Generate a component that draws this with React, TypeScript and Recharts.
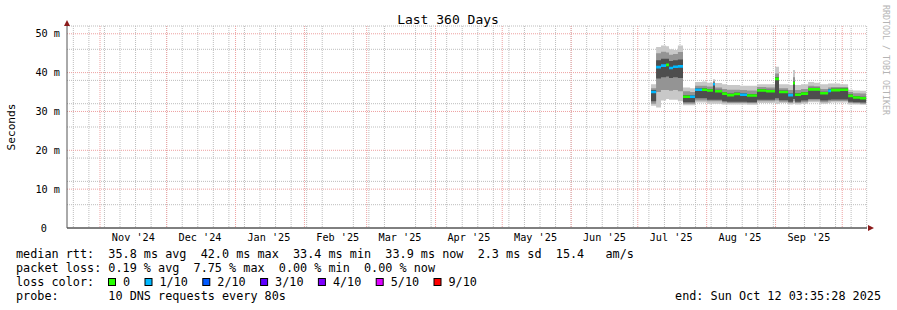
import {
  ComposedChart,
  Area,
  XAxis,
  YAxis,
  CartesianGrid,
  ReferenceDot,
} from "recharts";

const FONT = '"DejaVu Sans Mono", monospace';
const START = Date.UTC(2024, 9, 17, 3, 35, 28);
const DAY_MS = 86400000;
const toDay = (iso: string) => (Date.parse(iso + "T00:00:00Z") - START) / DAY_MS;
const keepSpaces = (s: string) => s.replace(/ /g, "\u00A0");

// axis / grid
const monthStarts = [
  "2024-11-01", "2024-12-01", "2025-01-01", "2025-02-01", "2025-03-01", "2025-04-01",
  "2025-05-01", "2025-06-01", "2025-07-01", "2025-08-01", "2025-09-01", "2025-10-01",
];
const monthLabelDates = [
  "2024-11-16", "2024-12-16", "2025-01-16", "2025-02-16", "2025-03-16", "2025-04-16",
  "2025-05-16", "2025-06-16", "2025-07-16", "2025-08-16", "2025-09-16",
];
const monthLabels = [
  "Nov '24", "Dec '24", "Jan '25", "Feb '25", "Mar '25", "Apr '25",
  "May '25", "Jun '25", "Jul '25", "Aug '25", "Sep '25",
];
const firstSunday = "2024-10-20";
const yTicks = [0, 10, 20, 30, 40, 50];
const yMinor = [2, 4, 6, 8, 12, 14, 16, 18, 22, 24, 26, 28, 32, 34, 36, 38, 42, 44, 46, 48, 52];
const yMajor = [10, 20, 30, 40, 50];

// samples (day since start of window), values in ms
const days = [
  262.8, 265.1, 267.3, 269.6, 270.9, 272.7, 274.9, 277.2, 280.4, 282.6,
  285.8, 288.0, 290.7, 291.6, 294.8, 297.0, 300.2, 302.9, 306.0, 310.5,
  314.6, 318.6, 320.4, 324.5, 326.7, 327.6, 330.3, 333.5, 336.2, 338.9,
  342.5, 343.8, 347.9, 351.5, 353.7, 356.9, 359.6,
];
const median = [
  35.0, 41.4, 41.8, 42.0, 41.2, 41.5, 41.6, 33.8, 33.8, 35.6,
  35.6, 35.4, 37.0, 35.2, 34.6, 34.2, 34.5, 34.3, 34.1, 35.4,
  35.2, 38.4, 35.0, 34.2, 37.3, 34.3, 34.6, 35.7, 35.7, 34.7,
  35.3, 35.5, 35.6, 34.0, 33.6, 33.4, 33.4,
];
const pingMin = [
  31.5, 31.0, 32.8, 33.2, 33.0, 33.0, 32.6, 31.6, 31.6, 32.3,
  32.3, 32.0, 32.0, 32.0, 31.8, 31.8, 31.8, 31.8, 31.7, 32.2,
  32.2, 32.0, 32.2, 31.8, 32.0, 31.8, 32.0, 32.4, 32.4, 32.0,
  32.2, 32.3, 32.3, 31.8, 31.8, 31.7, 31.7,
];
const pingMax = [
  37.0, 46.6, 47.0, 46.8, 46.0, 45.8, 47.0, 36.2, 36.0, 37.6,
  37.7, 37.4, 38.3, 37.3, 37.0, 36.8, 36.8, 36.6, 36.6, 37.0,
  37.0, 41.5, 37.0, 36.8, 40.7, 36.8, 37.0, 37.6, 37.4, 37.0,
  37.2, 37.2, 37.0, 35.6, 35.4, 35.3, 35.3,
];
const pingLo = [
  32.0, 35.0, 35.5, 35.5, 35.3, 35.5, 35.2, 32.0, 32.0, 32.8,
  32.8, 32.6, 32.6, 32.6, 32.3, 32.2, 32.2, 32.2, 32.1, 32.6,
  32.6, 32.8, 32.5, 32.2, 32.6, 32.2, 32.4, 32.8, 32.8, 32.4,
  32.6, 32.7, 32.7, 32.2, 32.1, 32.0, 32.0,
];
const pingHi = [
  36.0, 45.0, 45.4, 45.2, 44.6, 44.8, 45.3, 35.2, 35.0, 36.6,
  36.6, 36.4, 37.8, 36.2, 35.8, 35.6, 35.6, 35.5, 35.4, 36.3,
  36.2, 39.8, 36.0, 35.5, 38.8, 35.5, 35.8, 36.6, 36.5, 35.8,
  36.2, 36.3, 36.3, 35.0, 34.7, 34.6, 34.6,
];
const coreLo = [
  32.6, 38.5, 38.8, 39.0, 38.6, 38.8, 38.6, 32.4, 32.4, 33.4,
  33.4, 33.0, 33.0, 33.0, 32.6, 32.5, 32.5, 32.5, 32.4, 33.0,
  33.0, 33.4, 32.9, 32.5, 33.2, 32.5, 32.8, 33.2, 33.2, 32.8,
  33.0, 33.1, 33.1, 32.5, 32.4, 32.3, 32.3,
];
const coreHi = [
  35.5, 43.2, 43.6, 43.6, 43.0, 43.2, 43.4, 34.2, 34.2, 36.0,
  36.0, 35.8, 37.4, 35.6, 35.0, 34.6, 34.9, 34.7, 34.5, 35.8,
  35.6, 38.8, 35.4, 34.6, 37.7, 34.7, 35.0, 36.1, 36.1, 35.1,
  35.7, 35.9, 36.0, 34.4, 34.0, 33.8, 33.8,
];
const lossTenths = [
  1, 1, 1, 0, 1, 1, 1, 0, 1, 1,
  0, 0, 1, 0, 0, 0, 0, 1, 0, 0,
  0, 0, 0, 1, 0, 0, 0, 0, 0, 0,
  1, 0, 0, 0, 0, 0, 0,
];

// legend
const lossLabels = ["0", "1/10", "2/10", "3/10", "4/10", "5/10", "9/10"];
const lossColors = ["#26ff00", "#00b8ff", "#0059ff", "#5e00ff", "#7e00ff", "#dd00ff", "#ff0000"];
const colorFor = (t: number) => lossColors[Math.min(t, 6)];
const rttLine = "median rtt:  35.8 ms avg  42.0 ms max  33.4 ms min  33.9 ms now  2.3 ms sd  15.4   am/s";
const lossLine = "packet loss: 0.19 % avg  7.75 % max  0.00 % min  0.00 % now";
const probeLine = "probe:       10 DNS requests every 80s";
const endLine = "end: Sun Oct 12 03:35:28 2025";

const MEDIAN_HALF = 0.34; // half thickness of the median mark, in ms

const rows = days.map((day, i) => ({
  day,
  med: median[i],
  min: pingMin[i],
  max: pingMax[i],
  lo: pingLo[i],
  hi: pingHi[i],
  cLo: coreLo[i],
  cHi: coreHi[i],
}));

const weekDays: number[] = [];
for (let d = toDay(firstSunday); d < 360; d += 7) weekDays.push(d);
const monthDays = monthStarts.map(toDay);
const labelDays = monthLabelDates.map(toDay);

const first = days[0];
const span = days[days.length - 1] - first;
const gradStops = days.slice(0, -1).flatMap((d, i) => [
  { off: (d - first) / span, color: colorFor(lossTenths[i]) },
  { off: (days[i + 1] - first) / span, color: colorFor(lossTenths[i]) },
]);

const YTick = (props: any) => {
  const { x, y, payload } = props;
  const v = payload.value;
  return (
    <text x={v === 0 ? x - 13 : x} y={y} dy="0.35em" textAnchor="end" fontFamily={FONT} fontSize={10.2} fill="#000">
      {v === 0 ? "0" : `${v} m`}
    </text>
  );
};

const legendItems = () => {
  const out: JSX.Element[] = [];
  let x = 108;
  lossLabels.forEach((lab, i) => {
    out.push(
      <rect key={"r" + i} x={x + 0.5} y={278.5} width={7} height={7} fill={lossColors[i]} stroke="#000" strokeWidth={1} />
    );
    out.push(
      <text key={"t" + i} x={x + 15} y={286} fontFamily={FONT} fontSize={11.8} fill="#000">
        {lab}
      </text>
    );
    x += 15 + lab.length * 7.1 + 14.4;
  });
  return out;
};

const smoke = (key: string, get: (d: any) => [number, number], fill: string) => (
  <Area
    key={key}
    dataKey={get}
    type="stepAfter"
    stroke="none"
    fill={fill}
    fillOpacity={1}
    isAnimationActive={false}
    dot={false}
    activeDot={false}
  />
);

export default function App() {
  return (
    <div style={{ position: "absolute", left: 0, top: 0, width: 897, height: 310, background: "#fff" }}>
      <ComposedChart width={897} height={310} data={rows} margin={{ top: 26, right: 30, bottom: 52, left: 0 }}>
        <defs>
          <linearGradient id="lossGrad" x1="0" y1="0" x2="1" y2="0">
            {gradStops.map((s, i) => (
              <stop key={i} offset={s.off} stopColor={s.color} />
            ))}
          </linearGradient>
        </defs>
        <CartesianGrid
          verticalValues={weekDays}
          horizontalValues={yMinor}
          stroke="#bdbdbd"
          strokeDasharray="1 1"
        />
        <CartesianGrid
          verticalValues={monthDays}
          horizontalValues={yMajor}
          stroke="#eea0a0"
          strokeDasharray="1 1"
        />
        <XAxis
          dataKey="day"
          type="number"
          domain={[0, 360]}
          allowDataOverflow
          ticks={labelDays}
          tickFormatter={(v: number) => monthLabels[labelDays.indexOf(v)] ?? ""}
          height={30}
          tickSize={0}
          tickMargin={6}
          axisLine={{ stroke: "#000" }}
          tickLine={false}
          tick={{ fontFamily: FONT, fontSize: 10.2, fill: "#000" }}
        />
        <YAxis
          type="number"
          domain={[0, 52]}
          ticks={yTicks}
          width={67}
          tickSize={0}
          tickMargin={7}
          axisLine={{ stroke: "#555" }}
          tickLine={false}
          tick={<YTick />}
        />
        {smoke("outer", (d) => [d.min, d.max], "#c8c8c8")}
        {smoke("mid", (d) => [d.lo, d.hi], "#949494")}
        {smoke("core", (d) => [d.cLo, d.cHi], "#4e4e4e")}
        {/* median, coloured by packet loss */}
        <Area
          dataKey={(d: any) => [d.med - MEDIAN_HALF, d.med + MEDIAN_HALF]}
          type="stepAfter"
          stroke="none"
          fill="url(#lossGrad)"
          fillOpacity={1}
          isAnimationActive={false}
          dot={false}
          activeDot={false}
        />
        <ReferenceDot
          x={0}
          y={52}
          ifOverflow="visible"
          shape={(p: any) => (
            <path d={`M${p.cx - 3},${p.cy} L${p.cx + 3},${p.cy} L${p.cx},${p.cy - 6} Z`} fill="#8b1a1a" />
          )}
        />
        <ReferenceDot
          x={360}
          y={0}
          ifOverflow="visible"
          shape={(p: any) => (
            <path d={`M${p.cx + 1},${p.cy - 3} L${p.cx + 1},${p.cy + 3} L${p.cx + 7},${p.cy} Z`} fill="#8b1a1a" />
          )}
        />
      </ComposedChart>
      <svg width={897} height={310} style={{ position: "absolute", left: 0, top: 0, pointerEvents: "none" }}>
        <text x={448} y={24} textAnchor="middle" fontFamily={FONT} fontSize={13} fill="#000">
          Last 360 Days
        </text>
        <text
          transform="translate(15,127) rotate(-90)"
          textAnchor="middle"
          fontFamily={FONT}
          fontSize={11.2}
          fill="#000"
        >
          Seconds
        </text>
        <text
          transform="translate(883,5) rotate(90)"
          fontFamily={FONT}
          fontSize={8.3}
          fill="#b4b4b4"
        >
          RRDTOOL / TOBI OETIKER
        </text>
        <g fontFamily={FONT} fontSize={11.8} fill="#000">
          <text x={16} y={258}>{keepSpaces(rttLine)}</text>
          <text x={16} y={272}>{keepSpaces(lossLine)}</text>
          <text x={16} y={286}>loss color:</text>
          <text x={16} y={300}>{keepSpaces(probeLine)}</text>
          <text x={881} y={300} textAnchor="end">{keepSpaces(endLine)}</text>
        </g>
        {legendItems()}
      </svg>
    </div>
  );
}
